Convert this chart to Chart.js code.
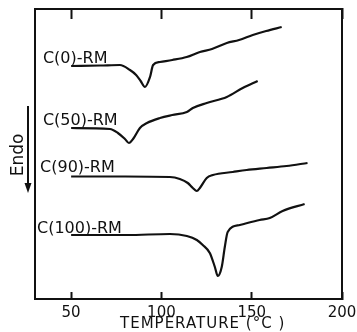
<!DOCTYPE html>
<html>
<head>
<meta charset="utf-8">
<script src="https://cdn.jsdelivr.net/npm/chart.js@4.4.1/dist/chart.umd.min.js"></script>
<style>
  html, body { margin: 0; padding: 0; background: #fff; }
  #wrap { width: 357px; height: 332px; }
</style>
</head>
<body>
<div id="wrap"><canvas id="myChart"></canvas></div>
<script>
// DSC traces, temperature (C) vs heat flow (arbitrary units, endo down)
var xTicks = [50, 100, 150, 200];

var tC0 = [50, 66, 77, 82.6, 86, 88.5, 90.9, 93.7, 95.4, 99.2, 106, 114, 121.3, 128, 136.2, 143, 150.6, 158, 166.6];
var hC0 = [233, 233.5, 234, 229, 224, 218, 212, 222, 234, 237, 239, 242, 247, 250, 256, 259, 264, 268, 272];

var tC50 = [50, 71.5, 75.9, 79.8, 82, 84.3, 88.1, 92, 99.2, 106, 114.1, 117.4, 125.1, 136.2, 145, 153.3];
var hC50 = [171, 170, 166, 160, 156, 160, 171, 176, 181, 184, 187, 191, 196, 202, 211, 218];

var tC90 = [50, 80, 104.7, 110.2, 114.6, 117.4, 119.6, 121.3, 125.1, 128.5, 139.5, 147.2, 158.3, 169.3, 180.9];
var hC90 = [122.5, 122.5, 122, 120, 116, 111, 108, 111, 121, 124, 127, 129, 131, 133, 136];

var tC100 = [50, 80.9, 104.7, 114.1, 119.6, 122.9, 126.8, 129.6, 131.2, 133.4, 135.1, 136.7, 143.4, 154.4, 160, 167.1, 179.3];
var hC100 = [64, 64, 65, 63, 59, 54, 46, 32, 23, 32, 52, 67, 74, 79, 81, 88, 95];

var seriesNames = ['C(0)-RM', 'C(50)-RM', 'C(90)-RM', 'C(100)-RM'];
// where each curve name sits (temperature, heat flow at text baseline)
var labelAt = [[34.4, 236], [34.4, 174], [32.8, 127], [31.1, 66]];

function pts(t, h) {
  return t.map(function (v, i) { return { x: v, y: h[i] }; });
}

var ink = '#111';
var curves = [pts(tC0, hC0), pts(tC50, hC50), pts(tC90, hC90), pts(tC100, hC100)];

function noPad(s) { s.paddingLeft = 0; s.paddingRight = 0; s.paddingTop = 0; s.paddingBottom = 0; }

const extras = {
  id: 'extras',
  afterDraw: function (chart) {
    const ctx = chart.ctx;
    const xs = chart.scales.x, ys = chart.scales.y;
    ctx.save();
    ctx.fillStyle = ink;
    ctx.strokeStyle = ink;

    // curve names
    ctx.font = '16px "DejaVu Sans"';
    ctx.textAlign = 'left';
    ctx.textBaseline = 'alphabetic';
    seriesNames.forEach(function (n, i) {
      ctx.fillText(n, xs.getPixelForValue(labelAt[i][0]), ys.getPixelForValue(labelAt[i][1]));
    });

    // Endo arrow
    ctx.lineWidth = 2;
    ctx.beginPath();
    ctx.moveTo(28, 106);
    ctx.lineTo(28, 186);
    ctx.stroke();
    ctx.beginPath();
    ctx.moveTo(24.5, 183);
    ctx.lineTo(28, 193);
    ctx.lineTo(31.5, 183);
    ctx.closePath();
    ctx.fill();

    ctx.save();
    ctx.translate(19, 155);
    ctx.rotate(-Math.PI / 2);
    ctx.font = '17px "DejaVu Sans"';
    ctx.textAlign = 'center';
    ctx.textBaseline = 'middle';
    ctx.fillText('Endo', 0, 0);
    ctx.restore();

    // x title
    ctx.font = '15px "DejaVu Sans"';
    ctx.letterSpacing = '1px';
    ctx.textAlign = 'left';
    ctx.textBaseline = 'middle';
    ctx.fillText('TEMPERATURE (°C )', 120, 324);
    ctx.restore();
  }
};

const ctx = document.getElementById('myChart');
new Chart(ctx, {
  type: 'line',
  data: {
    datasets: curves.map(function (c, i) {
      return {
        label: seriesNames[i],
        data: c,
        borderColor: ink,
        borderWidth: 2.2,
        pointRadius: 0,
        fill: false,
        cubicInterpolationMode: 'monotone'
      };
    })
  },
  options: {
    responsive: true,
    maintainAspectRatio: false,
    animation: false,
    layout: { padding: { left: 35, right: 15, top: 0, bottom: 0 } },
    plugins: { legend: { display: false }, tooltip: { enabled: false } },
    scales: {
      x: {
        type: 'linear',
        position: 'bottom',
        min: 30,
        max: 200,
        afterBuildTicks: function (s) { s.ticks = xTicks.map(function (v) { return { value: v }; }); },
        afterFit: function (s) { s.height = 33; noPad(s); },
        grid: { drawOnChartArea: false, drawTicks: true, tickLength: -7, tickWidth: 2, color: ink },
        border: { display: true, color: ink, width: 2 },
        ticks: { color: ink, font: { family: 'DejaVu Sans', size: 15 }, padding: 12, maxRotation: 0, autoSkip: false }
      },
      x2: {
        type: 'linear',
        position: 'top',
        min: 30,
        max: 200,
        afterBuildTicks: function (s) { s.ticks = xTicks.map(function (v) { return { value: v }; }); },
        afterFit: function (s) { s.height = 9; noPad(s); },
        grid: { drawOnChartArea: false, drawTicks: true, tickLength: -10, tickWidth: 2, color: ink },
        border: { display: true, color: ink, width: 2 },
        ticks: { display: false }
      },
      y: {
        type: 'linear',
        position: 'left',
        min: 0,
        max: 290,
        afterFit: function (s) { s.width = 0; noPad(s); },
        grid: { display: false },
        border: { display: true, color: ink, width: 2 },
        ticks: { display: false }
      },
      y2: {
        type: 'linear',
        position: 'right',
        min: 0,
        max: 290,
        afterFit: function (s) { s.width = 0; noPad(s); },
        grid: { display: false },
        border: { display: true, color: ink, width: 2 },
        ticks: { display: false }
      }
    }
  },
  plugins: [extras]
});
</script>
</body>
</html>
